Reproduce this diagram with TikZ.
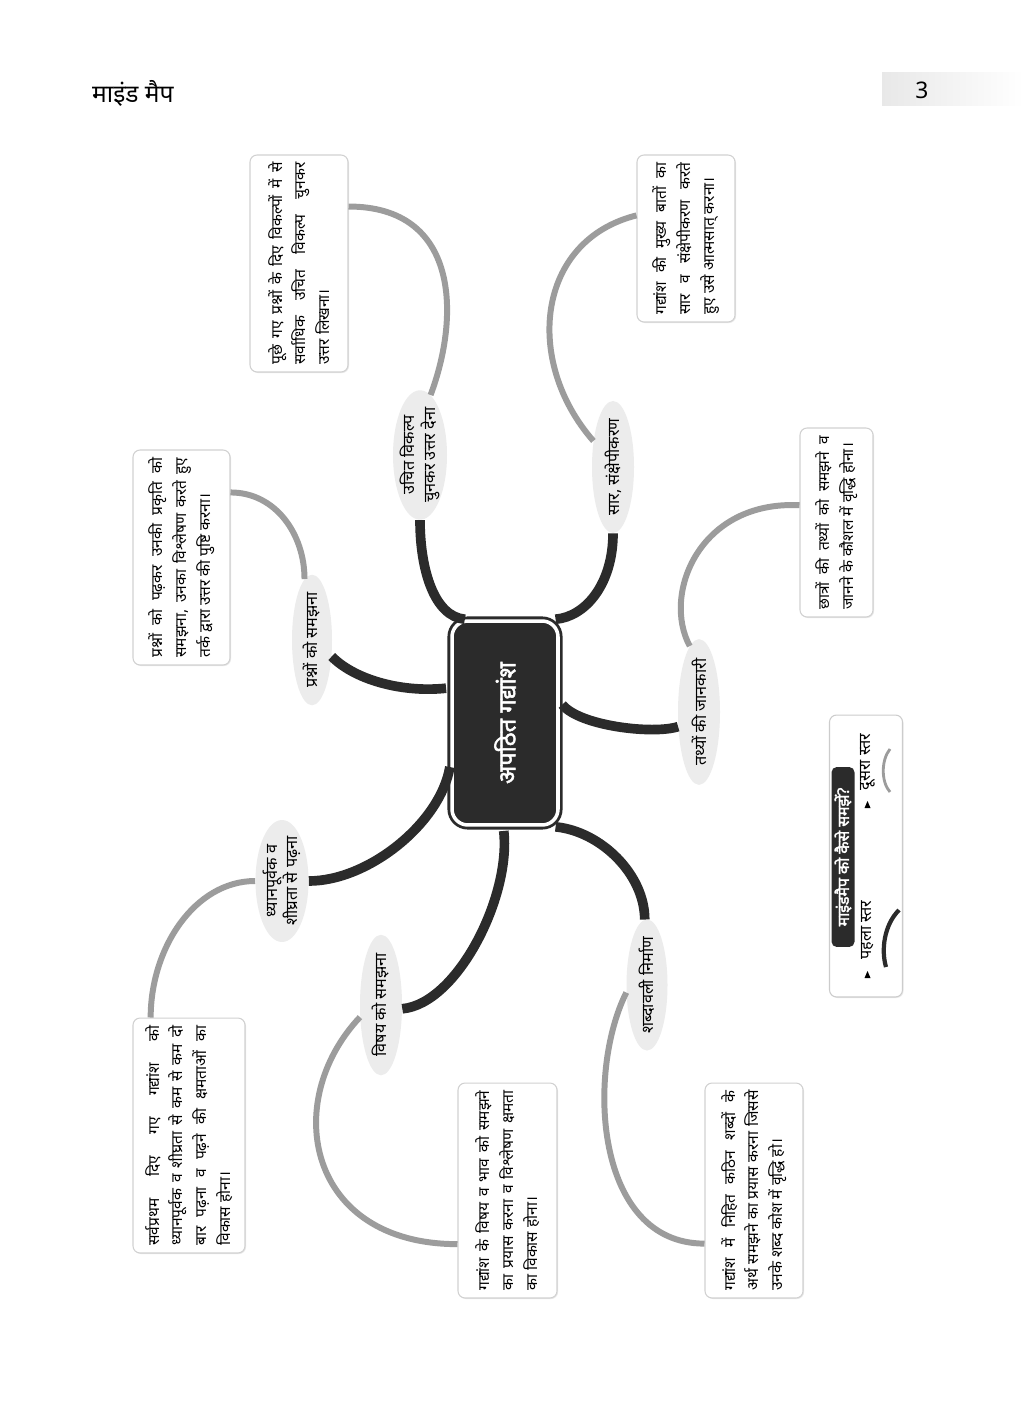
\documentclass[tikz,border=0pt]{standalone}
\usepackage{fontspec}
\newfontfamily\hindi[Script=Devanagari]{Noto Sans}
\newfontfamily\hindibold[Script=Devanagari, FakeBold=2.2]{Noto Sans}
\usetikzlibrary{shapes.geometric,shadows}

\definecolor{inkdark}{HTML}{2B2B2B}
\definecolor{inkgray}{HTML}{9C9C9C}
\definecolor{bubble}{HTML}{ECECEC}

\tikzset{
  hub/.style={rotate=90, rectangle, rounded corners=9pt, fill=inkdark, draw=inkdark,
    line width=1.6pt, double=white, double distance=2pt, text=white,
    font=\hindibold\fontsize{13.5}{15}\selectfont,
    minimum width=4.08cm, minimum height=2.12cm},
  branch/.style={rotate=90, ellipse, fill=bubble, inner sep=-1pt, align=center,
    font=\hindi\fontsize{9.2}{11.5}\selectfont},
  note/.style={rotate=90, rectangle, rounded corners=4pt, fill=white, draw=black!18,
    line width=0.6pt, drop shadow={opacity=0.18, shadow xshift=0.6pt, shadow yshift=-0.6pt},
    align=justify, inner xsep=0.15cm, inner ysep=4pt, font=\hindi\fontsize{8.8}{13.5}\selectfont},
  lvlone/.style={draw=inkdark, line width=5.5pt},
  lvltwo/.style={draw=inkgray, line width=3.4pt},
  legendbox/.style={rotate=90, rectangle, rounded corners=4pt, fill=white, draw=black!20,
    line width=0.6pt, drop shadow={opacity=0.15, shadow xshift=0.6pt, shadow yshift=-0.6pt},
    minimum width=5.64cm, minimum height=1.46cm},
  legendtag/.style={rotate=90, rectangle, rounded corners=3pt, fill=inkdark, text=white,
    font=\hindibold\fontsize{9}{10}\selectfont, minimum width=3.6cm, minimum height=0.46cm,
    inner sep=1pt},
  legendtext/.style={rotate=90, font=\hindi\fontsize{9.2}{11}\selectfont, inner sep=1pt}
}

\begin{document}
\tolerance=10000 \hbadness=10000
\begin{tikzpicture}[x=0.02cm, y=-0.02cm]
\fill[white] (0,0) rectangle (1024,1408);
\useasboundingbox (0,0) rectangle (1024,1408);

% Header
\node[anchor=west, font=\hindi\fontsize{14}{16}\selectfont] (title) at (86,93) {माइंड मैप};
\fill[left color=black!9, right color=white] (882,73) rectangle (1024,106);
\node[font=\hindi\fontsize{13}{15}\selectfont] (pagenum) at (922,90) {3};

% Central topic
\node[hub] (hub) at (505,723) {अपठित गद्यांश};

% First level
\node[branch, minimum width=2.5cm, minimum height=1.08cm] (vikalp) at (420,455) {उचित विकल्प\\चुनकर उत्तर देना};
\node[branch, minimum width=2.3cm, minimum height=0.84cm] (saar) at (613,467) {सार, संक्षेपीकरण};
\node[branch, minimum width=2.3cm, minimum height=0.8cm] (prashn) at (312,640) {प्रश्नों को समझना};
\node[branch, minimum width=2.46cm, minimum height=0.84cm] (tathya) at (699,712) {तथ्यों की जानकारी};
\node[branch, minimum width=2.44cm, minimum height=1.06cm] (dhyan) at (282,881) {ध्यानपूर्वक व\\शीघ्रता से पढ़ना};
\node[branch, minimum width=2.48cm, minimum height=0.84cm] (vishay) at (381,1005) {विषय को समझना};
\node[branch, minimum width=2.5cm, minimum height=0.82cm] (shabd) at (647,985) {शब्दावली निर्माण};

% Second level
\node[note, minimum width=4.34cm, minimum height=1.96cm, text width=4.04cm] (vikalpnote) at (299,263.5)
  {पूछे गए प्रश्नों के दिए विकल्पों में से\linebreak सर्वाधिक उचित विकल्प चुनकर\linebreak उत्तर लिखना।};
\node[note, minimum width=3.34cm, minimum height=1.96cm, text width=3.04cm] (saarnote) at (686,238.5)
  {गद्यांश की मुख्य बातों का\linebreak सार व संक्षेपीकरण करते\linebreak हुए उसे आत्मसात् करना।};
\node[note, minimum width=4.3cm, minimum height=1.94cm, text width=4.0cm] (prashnnote) at (181.5,557.5)
  {प्रश्नों को पढ़कर उनकी प्रकृति को\linebreak समझना, उनका विश्लेषण करते हुए\linebreak तर्क द्वारा उत्तर की पुष्टि करना।};
\node[note, minimum width=3.78cm, minimum height=1.46cm, text width=3.48cm] (tathyanote) at (836.5,522.5)
  {छात्रों की तथ्यों को समझने व\linebreak जानने के कौशल में वृद्धि होना।};
\node[note, minimum width=4.7cm, minimum height=2.24cm, text width=4.4cm] (dhyannote) at (189,1135.5)
  {सर्वप्रथम दिए गए गद्यांश को\linebreak ध्यानपूर्वक व शीघ्रता से कम से कम दो\linebreak बार पढ़ना व पढ़ने की क्षमताओं का\linebreak विकास होना।};
\node[note, minimum width=4.3cm, minimum height=1.98cm, text width=4.0cm] (vishaynote) at (507.5,1190.5)
  {गद्यांश के विषय व भाव को समझने\linebreak का प्रयास करना व विश्लेषण क्षमता\linebreak का विकास होना।};
\node[note, minimum width=4.3cm, minimum height=1.96cm, text width=4.0cm] (shabdnote) at (754,1190.5)
  {गद्यांश में निहित कठिन शब्दों के\linebreak अर्थ समझने का प्रयास करना जिससे\linebreak उनके शब्द कोश में वृद्धि हो।};

% Hub to first level
\draw[lvlone, shorten <=2.6pt] (hub.19) .. controls +(-35,-3) and +(0,50) .. (vikalp.180);
\draw[lvlone, shorten <=2.6pt] (hub.336) .. controls +(35,-3) and +(0,50) .. (saar.180);
\draw[lvlone, shorten <=2.6pt] (hub.57) .. controls +(-45,5) and +(25,25) .. (prashn.230);
\draw[lvlone, shorten <=2.6pt] (hub.292) .. controls +(20,25) and +(-25,8) .. (tathya.125);
\draw[lvlone, shorten <=2.6pt] (hub.126) .. controls +(-10,60) and +(60,0) .. (dhyan.270);
\draw[lvlone, shorten <=2.6pt] (hub.179) .. controls +(8,70) and +(55,-5) .. (vishay.260);
\draw[lvlone, shorten <=2.6pt] (hub.204) .. controls +(50,5) and +(0,-45) .. (shabd.2);

% First level to notes
\draw[lvltwo] (vikalp.350) .. controls +(30,-80) and +(110,0) .. (vikalpnote.319);
\draw[lvltwo] (saar.37) .. controls +(-70,-80) and +(-100,25) .. (saarnote.65);
\draw[lvltwo] (prashn.7) .. controls +(0,-45) and +(45,0) .. (prashnnote.323);
\draw[lvltwo] (tathya.8) .. controls +(-28,-52) and +(-100,-5) .. (tathyanote.65);
\draw[lvltwo] (dhyan.90) .. controls +(-60,0) and +(0,-70) .. (dhyannote.18);
\draw[lvltwo] (vishay.120) .. controls +(-80,85) and +(-150,0) .. (vishaynote.137);
\draw[lvltwo] (shabd.110) .. controls +(-40,80) and +(-110,0) .. (shabdnote.137);

% Legend
\node[legendbox] (legend) at (866,856) {};
\node[legendtag] (legendtag) at (843,857) {माइंडमैप को कैसे समझें?};
\node[legendtext] (second) at (868,762) {दूसरा स्तर};
\node[legendtext] (first) at (868,930) {पहला स्तर};
\draw[inkgray, line width=1.6pt] (890,749) .. controls (881,760) and (881,782) .. (890,792);
\draw[inkdark, line width=2.4pt] (899,910) .. controls (884,925) and (881,950) .. (886,967);
\fill (864.5,808) -- (870.5,808) -- (867.5,801) -- cycle;
\fill (864.5,978) -- (870.5,978) -- (867.5,971) -- cycle;
\end{tikzpicture}
\end{document}
